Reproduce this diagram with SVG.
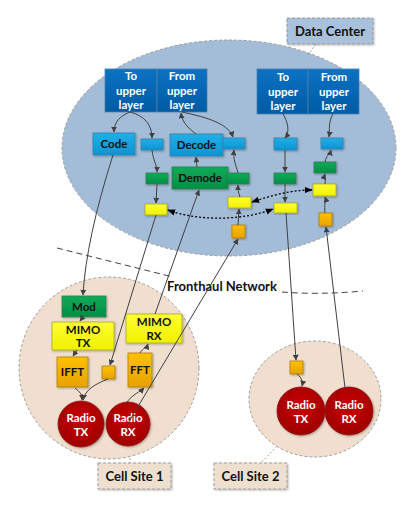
<svg xmlns="http://www.w3.org/2000/svg" width="416" height="511" viewBox="0 0 416 511">
<defs>
<linearGradient id="gDark" x1="0" y1="0" x2="0" y2="1"><stop offset="0" stop-color="#0b72c4"/><stop offset="1" stop-color="#005ba3"/></linearGradient>
<linearGradient id="gBlue" x1="0" y1="0" x2="0" y2="1"><stop offset="0" stop-color="#22aee8"/><stop offset="1" stop-color="#0c95d2"/></linearGradient>
<linearGradient id="gGreen" x1="0" y1="0" x2="0" y2="1"><stop offset="0" stop-color="#10aa58"/><stop offset="1" stop-color="#008f45"/></linearGradient>
<linearGradient id="gYellow" x1="0" y1="0" x2="0" y2="1"><stop offset="0" stop-color="#ffff30"/><stop offset="1" stop-color="#f0f000"/></linearGradient>
<linearGradient id="gOrange" x1="0" y1="0" x2="0" y2="1"><stop offset="0" stop-color="#ffc000"/><stop offset="1" stop-color="#e6a200"/></linearGradient>
<radialGradient id="gRed" cx="0.5" cy="0.4" r="0.6"><stop offset="0" stop-color="#c80000"/><stop offset="1" stop-color="#a00000"/></radialGradient>
<filter id="sh" x="-20%" y="-20%" width="140%" height="140%"><feDropShadow dx="1" dy="1" stdDeviation="0.8" flood-color="#000" flood-opacity="0.3"/></filter>
<marker id="ah" viewBox="0 0 10 10" refX="9" refY="5" markerWidth="6" markerHeight="6" markerUnits="userSpaceOnUse" orient="auto"><path d="M0,0 L10,5 L0,10 z" fill="#404040"/></marker>
<marker id="dh" viewBox="0 0 10 10" refX="9" refY="5" markerWidth="8" markerHeight="8" markerUnits="userSpaceOnUse" orient="auto-start-reverse"><path d="M0,1 L10,5 L0,9 z" fill="#000"/></marker>
<style>
text{font-family:Lato,"Open Sans","Liberation Sans",sans-serif;font-weight:bold;text-anchor:middle}
.w{fill:#fff;font-size:11.5px}
.k{fill:#111;font-size:11.5px}
.lbl{fill:#111;font-size:13px}
.dark{fill:url(#gDark);stroke:#4a7fb0;stroke-width:0.8}
.blue{fill:url(#gBlue);stroke:#3a7fae;stroke-width:0.8;filter:url(#sh)}
.green{fill:url(#gGreen);stroke:#2e7d4f;stroke-width:0.8;filter:url(#sh)}
.yellow{fill:url(#gYellow);stroke:#a8a830;stroke-width:0.8;filter:url(#sh)}
.orange{fill:url(#gOrange);stroke:#b07d10;stroke-width:0.8;filter:url(#sh)}
.red{fill:url(#gRed);stroke:#8a1010;stroke-width:0.8;filter:url(#sh)}
.region{stroke:#8a8a8a;stroke-width:0.8;stroke-dasharray:3,2}
.c{fill:none;stroke:#404040;stroke-width:1;marker-end:url(#ah)}
.dot{fill:none;stroke:#000;stroke-width:1.3;stroke-dasharray:2,2;marker-start:url(#dh);marker-end:url(#dh)}
.dash{fill:none;stroke:#404040;stroke-width:1;stroke-dasharray:6,4}
.leader{fill:none;stroke:#8a8a8a;stroke-width:0.8;stroke-dasharray:2,2}
</style>
</defs>

<g id="regions">
<ellipse id="data-center-area" class="region" cx="229" cy="148" rx="167" ry="108" fill="#a3bcd7"/>
<ellipse id="cell-site-1-area" class="region" cx="109" cy="368" rx="90" ry="91" fill="#f0dfcf"/>
<ellipse id="cell-site-2-area" class="region" cx="315" cy="399" rx="66" ry="58" fill="#f0dfcf"/>
</g>

<g id="fronthaul">
<path class="dash" d="M57,248 L173,277"/>
<path class="dash" d="M282,292 Q320,295 363,291"/>
<text class="lbl" x="222" y="291">Fronthaul Network</text>
</g>

<g id="labels">
<g id="data-center-label"><path class="leader" d="M316,44 L308,55"/><rect class="region" x="287" y="18" width="86" height="26" fill="#a9c1db" filter="url(#sh)"/><text class="lbl" x="330" y="36">Data Center</text></g>
<g id="cell-site-1-label"><path class="leader" d="M130,458 L130,463"/><rect class="region" x="98" y="463" width="73" height="26" fill="#efdfce" filter="url(#sh)"/><text class="lbl" x="134.5" y="481">Cell Site 1</text></g>
<g id="cell-site-2-label"><path class="leader" d="M277,446 L262,462"/><rect class="region" x="214" y="463" width="73" height="26" fill="#efdfce" filter="url(#sh)"/><text class="lbl" x="250.5" y="481">Cell Site 2</text></g>
</g>

<g id="nodes">
<g id="to-upper-1"><rect class="dark" x="105" y="69" width="52" height="43"/><text class="w" x="131" y="80">To</text><text class="w" x="131" y="95">upper</text><text class="w" x="131" y="109">layer</text></g>
<g id="from-upper-1"><rect class="dark" x="157" y="69" width="50" height="43"/><text class="w" x="182" y="80">From</text><text class="w" x="182" y="95">upper</text><text class="w" x="182" y="109">layer</text></g>
<g id="to-upper-2"><rect class="dark" x="257" y="69" width="51" height="45"/><text class="w" x="283" y="81">To</text><text class="w" x="283" y="96">upper</text><text class="w" x="283" y="110">layer</text></g>
<g id="from-upper-2"><rect class="dark" x="308" y="69" width="51" height="45"/><text class="w" x="334" y="81">From</text><text class="w" x="334" y="96">upper</text><text class="w" x="334" y="110">layer</text></g>

<g id="code"><rect class="blue" x="93" y="133" width="42" height="22"/><text class="k" x="114" y="148">Code</text></g>
<g id="blue-1"><rect class="blue" x="141" y="139" width="22" height="11"/></g>
<g id="decode"><rect class="blue" x="170" y="134" width="53" height="22"/><text class="k" x="196.5" y="149">Decode</text></g>
<g id="blue-2"><rect class="blue" x="223" y="138" width="22" height="11"/></g>
<g id="blue-3"><rect class="blue" x="274" y="138" width="23" height="12"/></g>
<g id="blue-4"><rect class="blue" x="321" y="138" width="22" height="11"/></g>

<g id="green-1"><rect class="green" x="146" y="173" width="22" height="11"/></g>
<g id="demode"><rect class="green" x="172" y="167" width="56" height="22"/><text class="k" x="200" y="182">Demode</text></g>
<g id="green-2"><rect class="green" x="227" y="173" width="22" height="11"/></g>
<g id="green-3"><rect class="green" x="274" y="173" width="22" height="11"/></g>
<g id="green-4"><rect class="green" x="314" y="162" width="22" height="11"/></g>

<g id="yellow-1"><rect class="yellow" x="145" y="204" width="22" height="11"/></g>
<g id="yellow-2"><rect class="yellow" x="228" y="197" width="23" height="11"/></g>
<g id="yellow-3"><rect class="yellow" x="274" y="203" width="23" height="10"/></g>
<g id="yellow-4"><rect class="yellow" x="313" y="184" width="23" height="12"/></g>

<g id="orange-1"><rect class="orange" x="232" y="225" width="13" height="13"/></g>
<g id="orange-2"><rect class="orange" x="319" y="213" width="13" height="13"/></g>

<g id="mod"><rect class="green" x="62" y="296" width="44" height="21"/><text class="k" x="84" y="310.5">Mod</text></g>
<g id="mimo-tx"><rect class="yellow" x="52" y="322" width="62" height="28"/><text class="k" x="83" y="334">MIMO</text><text class="k" x="83" y="347">TX</text></g>
<g id="ifft"><rect class="orange" x="57" y="357" width="31" height="30"/><text class="k" x="72.5" y="376">IFFT</text></g>
<g id="orange-cs1"><rect class="orange" x="102" y="366" width="13" height="13"/></g>
<g id="mimo-rx"><rect class="yellow" x="126" y="314" width="56" height="29"/><text class="k" x="154" y="326">MIMO</text><text class="k" x="154" y="340">RX</text></g>
<g id="fft"><rect class="orange" x="128" y="353" width="24" height="34"/><text class="k" x="140" y="374">FFT</text></g>
<g id="radio-tx-1"><circle class="red" cx="81" cy="424" r="23"/><text class="w" x="81" y="422">Radio</text><text class="w" x="81" y="436">TX</text></g>
<g id="radio-rx-1"><circle class="red" cx="128" cy="424" r="22"/><text class="w" x="128" y="422">Radio</text><text class="w" x="128" y="436">RX</text></g>

<g id="orange-cs2"><rect class="orange" x="290" y="361" width="13" height="13"/></g>
<g id="radio-tx-2"><circle class="red" cx="301" cy="411" r="24"/><text class="w" x="301" y="409">Radio</text><text class="w" x="301" y="423">TX</text></g>
<g id="radio-rx-2"><circle class="red" cx="349" cy="411" r="24"/><text class="w" x="349" y="409">Radio</text><text class="w" x="349" y="423">RX</text></g>
</g>

<g id="connectors">
<path class="c" d="M130,112 C120,116 114,122 114,132"/>
<path class="c" d="M130,112 C145,116 152,125 152,138"/>
<path class="c" d="M152,150 C153,160 157,165 157,172"/>
<path class="c" d="M157,184 L156,203"/>
<path class="c" d="M196,134 C188,128 182,122 181,113"/>
<path class="c" d="M182,112 C200,116 228,122 233,137"/>
<path class="c" d="M238,173 C236,165 233,160 234,150"/>
<path class="c" d="M240,197 C238,192 238,189 238,185"/>
<path class="c" d="M238,225 L239,209"/>
<path class="c" d="M197,167 L196,157"/>
<path class="c" d="M283,114 C288,122 290,132 285,138"/>
<path class="c" d="M285,150 L285,172"/>
<path class="c" d="M285,184 L285,202"/>
<path class="c" d="M333,114 C328,122 330,130 329,137"/>
<path class="c" d="M325,162 C326,156 330,154 331,150"/>
<path class="c" d="M325,184 C326,180 324,177 325,174"/>
<path class="c" d="M325,213 C324,205 326,200 325,197"/>
<path class="c" d="M113,155 Q86,240 83,295"/>
<path class="c" d="M156,215 L110,365"/>
<path class="c" d="M155,314 L199,190"/>
<path class="c" d="M127,425 L238,239"/>
<path class="c" d="M286,213 L296,360"/>
<path class="c" d="M345,388 L326,227"/>
<path class="c" d="M83,317 L80,321"/>
<path class="c" d="M77,350 L73,356"/>
<path class="c" d="M75,388 C80,392 82,394 82,400"/>
<path class="c" d="M108,379 C95,384 85,390 83,400"/>
<path class="c" d="M127,402 C133,394 140,392 144,388"/>
<path class="c" d="M140,353 C143,348 147,347 148,344"/>
<path class="c" d="M297,374 C302,378 303,382 302,386"/>
<path class="dot" d="M168,210 C200,222 245,220 273,209"/>
<path class="dot" d="M252,202 C270,196 290,190 312,190"/>
</g>
</svg>
